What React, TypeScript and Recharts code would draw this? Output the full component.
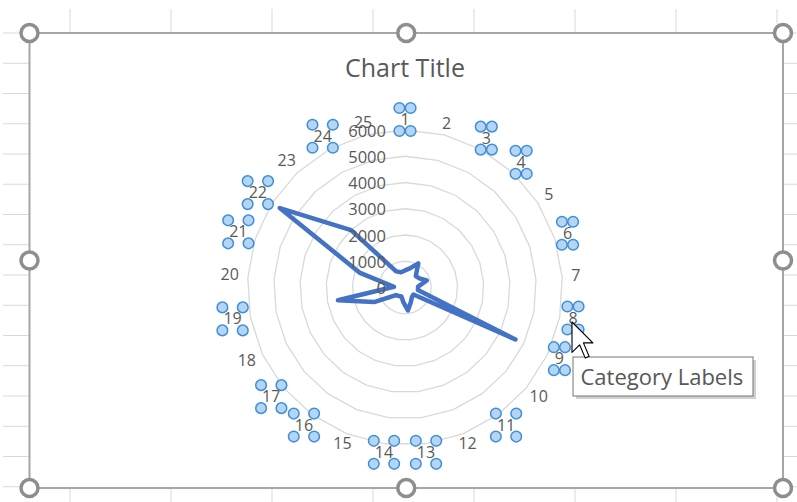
import React from 'react';
import { RadarChart, Radar, PolarGrid, PolarAngleAxis, PolarRadiusAxis } from 'recharts';

const categories = [
  '1', '2', '3', '4', '5', '6', '7', '8', '9', '10', '11', '12', '13',
  '14', '15', '16', '17', '18', '19', '20', '21', '22', '23', '24', '25',
];
const values = [
  650, 750, 1050, 600, 650, 870, 500, 500, 4650, 420, 450, 600, 880,
  550, 370, 400, 450, 1300, 2600, 420, 1800, 5650, 3000, 700, 600,
];
const radiusTicks = [0, 1000, 2000, 3000, 4000, 5000, 6000];
// labels that show the blue selection handles in the screenshot
const handledLabels = ['1', '3', '4', '6', '8', '9', '11', '13', '14', '16', '17', '19', '21', '22', '24'];

const data = categories.map((c, i) => ({ cat: c, value: values[i] }));

const W = 797;
const H = 502;
const CX = 405;
const CY = 287.5;
const R = 157.5;
const FONT = '"Open Sans", "Noto Sans", sans-serif';
const TEXT = '#595959';

const CategoryTick = (props: any) => {
  const label = String(props.payload.value);
  const i = categories.indexOf(label);
  const a = (i * 2 * Math.PI) / categories.length;
  const ux = Math.sin(a);
  const uy = -Math.cos(a);
  const w = label.length * 9.2;
  const r = R + 9 + (Math.abs(ux) * w) / 2;
  const x = CX + ux * r;
  const y = CY + uy * r - 2;
  const hx = w / 2 + 1;
  return (
    <g>
      <text x={x} y={y} textAnchor="middle" dominantBaseline="central" fontSize={16} fontFamily={FONT} fill={TEXT}>
        {label}
      </text>
      {handledLabels.includes(label) &&
        [[-hx, -11], [hx, -11], [-hx, 12], [hx, 12]].map(([ox, oy], k) => (
          <circle key={k} cx={x + ox} cy={y + oy} r={5.3} fill="#b5d5f3" stroke="#3d8fdb" strokeWidth={1.5} />
        ))}
    </g>
  );
};

const RadiusTick = (props: any) => {
  const { x, y, payload } = props;
  return (
    <text x={x - 19} y={y} textAnchor="end" dominantBaseline="central" fontSize={16.5} fontFamily={FONT} fill={TEXT}>
      {payload.value}
    </text>
  );
};

const rowLines = Array.from({ length: 16 }, (_, k) => 33 + k * 30.25);
const colLines = [70, 171, 272, 373, 474, 575, 676, 777];

const Handle = ({ x, y }: { x: number; y: number }) => (
  <circle cx={x} cy={y} r={8.5} fill="#fff" stroke="#8e8e8e" strokeWidth={3.5} />
);

export default function App() {
  const left = 29.5;
  const right = 783;
  const top = 33;
  const bottom = 488;
  const midX = (left + right) / 2;
  const midY = (top + bottom) / 2;
  const s = 1.9;
  const arrow = [[0, 0], [0, 16], [4, 12], [7, 19], [9, 18], [6, 11], [11, 11]]
    .map(([px, py]) => `${572 + px * s},${322 + py * s}`)
    .join(' ');

  return (
    <div style={{ position: 'absolute', left: 0, top: 0, width: W, height: H, background: '#fff', overflow: 'hidden' }}>
      <svg width={W} height={H} style={{ position: 'absolute', left: 0, top: 0 }}>
        {rowLines.map((y) => (
          <line key={y} x1={3} x2={W} y1={y} y2={y} stroke="#d9d9d9" strokeWidth={1} />
        ))}
        {colLines.map((x) => (
          <line key={x} x1={x} x2={x} y1={9} y2={H} stroke="#d9d9d9" strokeWidth={1} />
        ))}
        <rect x={left} y={top} width={right - left} height={bottom - top} fill="#fff" />
      </svg>

      <div style={{ position: 'absolute', left: 0, top: 0 }}>
        <RadarChart
          width={W}
          height={H}
          data={data}
          cx={CX}
          cy={CY}
          outerRadius={R}
          margin={{ top: 0, right: 0, bottom: 0, left: 0 }}
        >
          <PolarGrid gridType="polygon" radialLines={false} stroke="#d9d9d9" strokeWidth={1.3} />
          <PolarAngleAxis dataKey="cat" tick={(p: any) => <CategoryTick {...p} />} tickLine={false} axisLine={false} />
          <PolarRadiusAxis
            angle={90}
            domain={[0, 6000]}
            ticks={radiusTicks as any}
            tickCount={7}
            axisLine={false}
            tickLine={false}
            tick={(p: any) => <RadiusTick {...p} />}
          />
          <Radar
            dataKey="value"
            stroke="#4472c4"
            strokeWidth={4.5}
            strokeLinejoin="round"
            fill="none"
            fillOpacity={0}
            dot={false}
            isAnimationActive={false}
          />
        </RadarChart>
      </div>

      <svg width={W} height={H} style={{ position: 'absolute', left: 0, top: 0, pointerEvents: 'none' }}>
        <text x={405} y={77} textAnchor="middle" fontSize={25} fontFamily={FONT} fill={TEXT}>
          Chart Title
        </text>
        <rect x={left} y={top} width={right - left} height={bottom - top} fill="none" stroke="#a6a6a6" strokeWidth={2} />
        <Handle x={left} y={top} />
        <Handle x={midX} y={top} />
        <Handle x={right} y={top} />
        <Handle x={left} y={midY} />
        <Handle x={right} y={midY} />
        <Handle x={left} y={bottom} />
        <Handle x={midX} y={bottom} />
        <Handle x={right} y={bottom} />

        <rect x={576} y={360} width={180} height={39} fill="rgba(0,0,0,0.18)" />
        <rect x={573} y={357} width={180} height={39} fill="#fff" stroke="#767676" strokeWidth={1} />
        <text x={580.5} y={385} fontSize={22} fontFamily={FONT} fill="#575757">
          Category Labels
        </text>
        <polygon points={arrow} fill="#fff" stroke="#000" strokeWidth={1.1} strokeLinejoin="round" />
      </svg>
    </div>
  );
}
